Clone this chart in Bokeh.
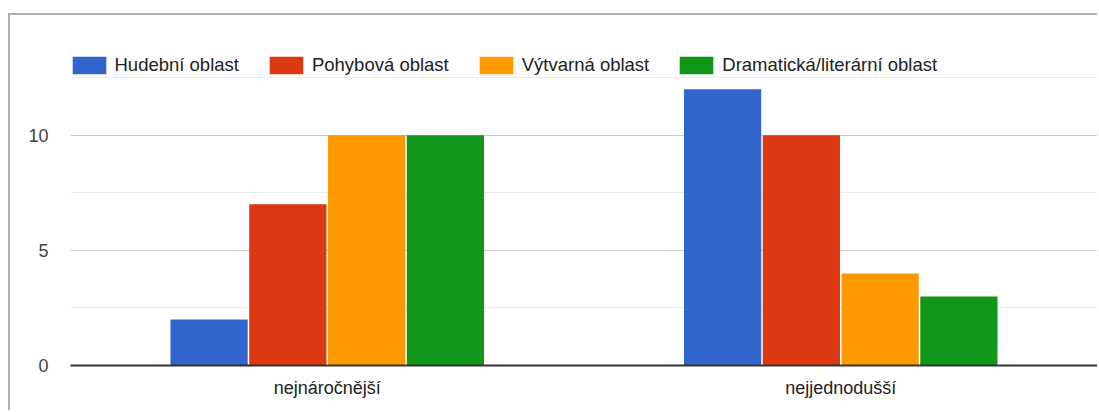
from bokeh.plotting import figure
from bokeh.models import (ColumnDataSource, FactorRange, Range1d, FixedTicker, Legend,
                          LegendItem)
from bokeh.transform import dodge
from bokeh.embed import file_html
from bokeh.resources import INLINE

categories = ["nejnáročnější", "nejjednodušší"]
series_names = ["Hudební oblast", "Pohybová oblast", "Výtvarná oblast",
                "Dramatická/literární oblast"]
hudebni = [2, 12]
pohybova = [7, 10]
vytvarna = [10, 4]
dramaticka = [10, 3]
y_ticks = [0, 5, 10]
y_minor = [2.5, 7.5, 12.5]
colors = ["#3366cc", "#dc3912", "#ff9900", "#109618"]

FONT = "Liberation Sans"

source = ColumnDataSource(dict(cat=categories, s0=hudebni, s1=pohybova,
                               s2=vytvarna, s3=dramaticka))

# frame top reaches the outer border; the legend lives above value 12.5
p = figure(x_range=FactorRange(factors=categories, range_padding=0),
           y_range=Range1d(0, 15.2),
           width=1089, height=397, output_backend="svg", toolbar_location=None,
           min_border_left=60, min_border_right=2, min_border_top=0,
           min_border_bottom=47,
           margin=(13, 0, 0, 8),
           styles={"border-top": "2px solid #b0b0b0",
                   "border-left": "2px solid #b0b0b0"})

bw = 0.1534
offsets = [-1.5 * bw, -0.5 * bw, 0.5 * bw, 1.5 * bw]
items = []
for i, (key, name, c) in enumerate(zip(["s0", "s1", "s2", "s3"], series_names, colors)):
    r = p.vbar(x=dodge("cat", offsets[i], range=p.x_range), top=key, width=bw - 0.003,
               source=source, fill_color=c, line_color=None)
    items.append(LegendItem(label=name, renderers=[r]))

legend = Legend(items=items, orientation="horizontal", location=(-2.5, 289),
                padding=0, margin=0, spacing=26, glyph_width=42, glyph_height=22,
                label_height=22, label_standoff=5, label_text_font=FONT,
                label_text_font_size="18.5px", label_text_color="#222222",
                border_line_color=None, background_fill_alpha=0)
p.add_layout(legend)

ticker = FixedTicker(ticks=y_ticks, minor_ticks=y_minor)
p.yaxis.ticker = ticker
p.ygrid.ticker = ticker
p.yaxis.axis_line_color = None
p.yaxis.major_tick_line_color = None
p.yaxis.minor_tick_line_color = None
p.yaxis.major_tick_out = 0
p.yaxis.major_label_standoff = 18
p.yaxis.major_label_text_font = FONT
p.yaxis.major_label_text_font_size = "18px"
p.yaxis.major_label_text_color = "#444444"
p.ygrid.grid_line_color = "#cccccc"
p.ygrid.minor_grid_line_color = "#ebebeb"
p.xgrid.grid_line_color = None

p.xaxis.axis_line_color = "#333333"
p.xaxis.axis_line_width = 2
p.xaxis.major_tick_line_color = None
p.xaxis.minor_tick_line_color = None
p.xaxis.major_tick_out = 0
p.xaxis.major_label_standoff = 12
p.xaxis.major_label_text_font = FONT
p.xaxis.major_label_text_font_size = "18px"
p.xaxis.major_label_text_color = "#222222"
p.outline_line_color = None

open("out.html", "w").write(file_html(p, INLINE))
